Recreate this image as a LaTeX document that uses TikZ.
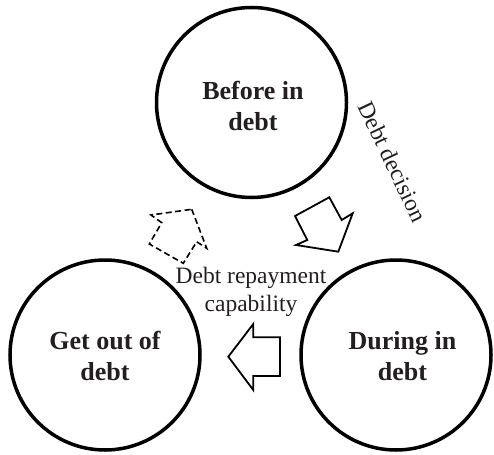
\documentclass[tikz,border=0pt]{standalone}
\usepackage{fontspec}
\setmainfont{Liberation Serif}
\definecolor{txt}{RGB}{35,31,32}
\begin{document}
\begin{tikzpicture}[x=1pt,y=-1pt,
  stage/.style={circle,draw=black,line width=3.5pt,minimum size=190pt,inner sep=0pt},
  stagetext/.style={font=\fontsize{26}{31}\selectfont\bfseries,text=txt,align=center,inner sep=0pt},
  plaintext/.style={font=\fontsize{23.5}{28}\selectfont,text=txt,align=center,inner sep=0pt},
  blockarrow/.style={draw=black,line width=1.8pt,line join=miter},
  dashedarrow/.style={draw=black,line width=1.6pt,dash pattern=on 6pt off 3.5pt,line join=miter}]
\useasboundingbox (0,0) rectangle (494,454);
% circles
\node[stage] (before) at (251.5,102.5) {};
\node[stage] (getout) at (105,355) {};
\node[stage] (during) at (396,355) {};
% circle texts
\node[stagetext] (beforet) at (253,105.5) {Before in\\debt};
\node[stagetext] (getoutt) at (105,356) {Get out of\\debt};
\node[stagetext] (duringt) at (402.5,356) {During in\\debt};
% other labels
\node[plaintext] (repay) at (251,291.5) {Debt repayment\\capability};
\node[plaintext,rotate=-64.6] (decision) at (392.5,161.5) {Debt decision};
% block arrows
\draw[blockarrow] (329.3,197.3) -- (341.7,220) -- (352.7,213.3) -- (338.3,251.7)
  -- (296,245) -- (307.3,240) -- (295,216) -- cycle;
\draw[blockarrow] (280,337.3) -- (253.3,337.3) -- (253.3,324) -- (228.3,356.7)
  -- (253.3,390) -- (253.3,376) -- (280,376) -- cycle;
\draw[dashedarrow] (191.7,209.3) -- (206.7,248.3) -- (196.7,241.7) -- (183.3,263.3)
  -- (149.3,244) -- (161.7,222.7) -- (151,215) -- cycle;
\end{tikzpicture}
\end{document}
